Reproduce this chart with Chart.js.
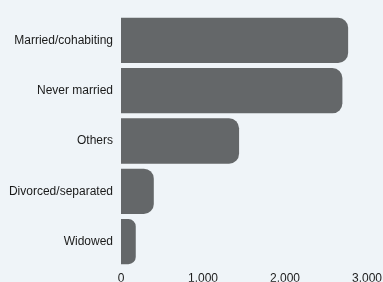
<!DOCTYPE html>
<html>
<head>
<meta charset="utf-8">
<script src="https://cdn.jsdelivr.net/npm/chart.js@4"></script>
<style>
  html, body { margin: 0; padding: 0; background: #eff4f8; }
  #wrap { width: 383px; height: 282px; }
</style>
</head>
<body>
<div id="wrap"><canvas id="chart"></canvas></div>
<script>
var categories = ["Married/cohabiting", "Never married", "Others", "Divorced/separated", "Widowed"];
var counts = [2770, 2700, 1440, 400, 180];
var tickValues = [0, 1000, 2000, 3000];

window.addEventListener("load", ()=>{
    var canvas = document.getElementById("chart");
    var config = {
        type: "bar",
        data: {
            labels: categories,
            datasets: [{
                label: "Count",
                data: counts,
                backgroundColor: "#646769",
                borderRadius: 10,
                borderSkipped: "start",
                barPercentage: 0.9,
                categoryPercentage: 1
            }]
        },
        options: {
            indexAxis: "y",
            responsive: true,
            maintainAspectRatio: false,
            animation: false,
            layout: { padding: { top: 14, right: 16, bottom: 0, left: 0 } },
            plugins: { legend: { display: false }, tooltip: { enabled: false } },
            scales: {
                x: {
                    min: 0,
                    max: 3000,
                    grid: { display: false, drawTicks: false },
                    border: { display: false },
                    afterBuildTicks: (s) => { s.ticks = tickValues.map(v => ({ value: v })); },
                    afterFit: (s) => { s.height = 15; s.paddingRight = 0; s.paddingLeft = 0; },
                    ticks: {
                        color: "#1a1a1a",
                        font: { family: "Liberation Sans", size: 12 },
                        padding: 5,
                        maxRotation: 0,
                        callback: (v) => v === 0 ? "0" : (v / 1000) + ".000"
                    }
                },
                y: {
                    grid: { display: false, drawTicks: false },
                    border: { display: false },
                    afterFit: (s) => { s.width = 121; },
                    ticks: {
                        color: "#1a1a1a",
                        font: { family: "Liberation Sans", size: 12 },
                        padding: 8
                    }
                }
            }
        }
    };
    var barchart = new Chart(canvas, config);
});
</script>
</body>
</html>
